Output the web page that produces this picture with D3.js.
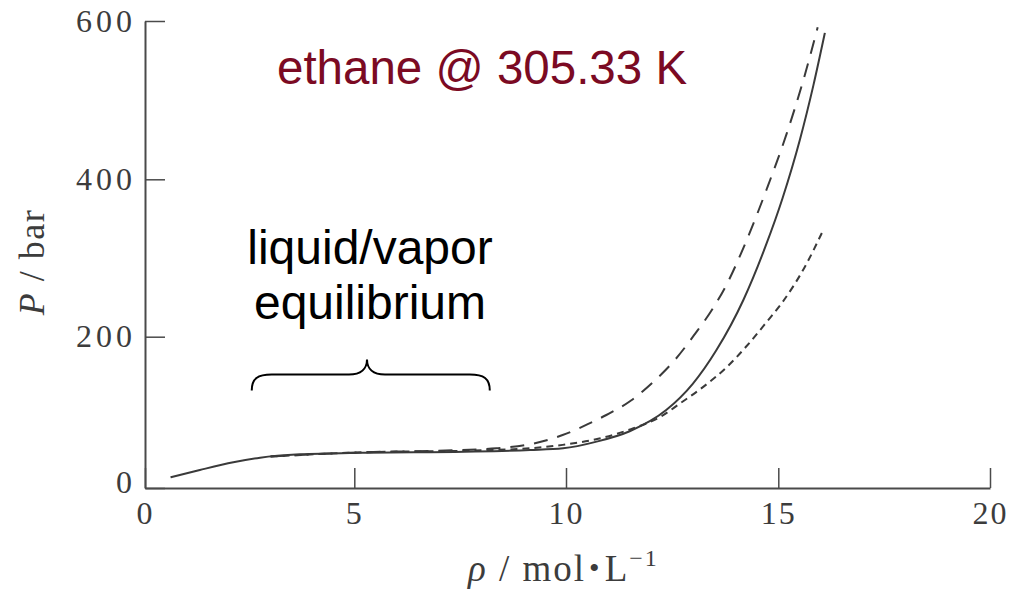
<!DOCTYPE html>
<html>
<head>
<meta charset="utf-8">
<script src="https://cdn.jsdelivr.net/npm/d3@7"></script>
<style>
  body { margin: 0; background: #fff; }
  svg { display: block; }
</style>
</head>
<body>
<script>
// values (rho in mol/L, P in bar)
var rhoSolid = [0.61, 1.31, 2.11, 2.75, 3.70, 5.2, 7.6, 9.15, 9.93, 10.7, 11.5, 12.36, 12.99, 13.54, 14.18, 14.7, 15.1, 15.51, 15.83, 16.1]
var pSolid = [14.1, 23.8, 34.0, 40.1, 44.5, 46.7, 48.0, 50.2, 52.5, 61, 75, 103, 138, 182, 247, 315, 376, 450, 519, 585]

var rhoLong = [3.0, 5.2, 6.8, 8.36, 9.15, 9.92, 10.5, 10.95, 11.54, 12.09, 12.56, 13.03, 13.46, 13.78, 14.25, 14.73, 15.2, 15.59, 15.93]
var pLong = [41.5, 47.2, 49, 52.5, 57.8, 70, 84, 96.5, 116, 142, 169, 203, 236, 266, 322, 388, 458, 525, 592]

var rhoShort = [3.0, 5.2, 7.6, 9.15, 9.92, 10.81, 11.59, 12.22, 12.69, 13.24, 13.79, 14.26, 14.73, 15.1, 15.67, 16.03]
var pShort = [41.5, 47.2, 49.3, 52.5, 57, 65.7, 79, 94, 112, 134, 160, 188, 219, 244, 293, 332]

var xTicks = [0, 5, 10, 15, 20]
var yTicks = [0, 200, 400, 600]

// brace under the two-phase label, in data units
var braceFrom = 2.55, braceTo = 8.2, braceMid = 5.3, braceP = 150

var width = 1028, height = 589

var svg = d3.select("body").append("svg")
    .attr("width", width)
    .attr("height", height)

// the picture's axes are a little uneven, so the scales follow the tick marks
var x = d3.scaleLinear()
    .domain(xTicks)
    .range([145, 354.3, 566, 778.3, 990])
var y = d3.scaleLinear()
    .domain(yTicks)
    .range([488, 336.7, 179.3, 21])

var axisColor = "#4a4a4a"
var serif = "'Liberation Serif', 'DejaVu Serif', serif"
var sans = "'Liberation Sans', Arial, sans-serif"

// x axis
var gx = svg.append("g")
    .attr("transform", "translate(0," + y(0) + ")")
    .call(d3.axisBottom(x).tickValues(xTicks).tickSizeInner(-20).tickSizeOuter(0).tickPadding(13))
gx.select(".domain").attr("stroke", axisColor).attr("stroke-width", 2)
gx.selectAll(".tick line").attr("stroke", axisColor).attr("stroke-width", 1.5)
gx.selectAll(".tick text")
    .attr("fill", "#3c3c3c")
    .style("font-family", serif)
    .style("font-size", "32px")
    .style("letter-spacing", "2px")

// y axis
var gy = svg.append("g")
    .attr("transform", "translate(" + x(0) + ",0)")
    .call(d3.axisLeft(y).tickValues(yTicks).tickSizeInner(-20).tickSizeOuter(0).tickPadding(9))
gy.select(".domain").attr("stroke", axisColor).attr("stroke-width", 2)
gy.selectAll(".tick line").attr("stroke", axisColor).attr("stroke-width", 1.5)
gy.selectAll(".tick text")
    .attr("fill", "#3c3c3c")
    .style("font-family", serif)
    .style("font-size", "32px")
    .style("letter-spacing", "4px")
// the zero label sits a bit above the corner
gy.selectAll(".tick").filter(function (d) { return d === 0 })
    .select("text").attr("y", -6)

// curves
function series(rs, ps) {
    return rs.map(function (r, i) { return { rho: r, p: ps[i] } })
}
var line = d3.line()
    .x(function (d) { return x(d.rho) })
    .y(function (d) { return y(d.p) })
    .curve(d3.curveMonotoneX)

svg.append("path")
    .datum(series(rhoShort, pShort))
    .attr("fill", "none")
    .attr("stroke", "#3a3a3a")
    .attr("stroke-width", 2)
    .attr("stroke-dasharray", "7,5")
    .attr("d", line)

svg.append("path")
    .datum(series(rhoLong, pLong))
    .attr("fill", "none")
    .attr("stroke", "#3a3a3a")
    .attr("stroke-width", 2)
    .attr("stroke-dasharray", "14,10")
    .attr("d", line)

svg.append("path")
    .datum(series(rhoSolid, pSolid))
    .attr("fill", "none")
    .attr("stroke", "#3a3a3a")
    .attr("stroke-width", 2)
    .attr("d", line)

// axis titles
var xt = svg.append("text")
    .attr("x", 468)
    .attr("y", 581)
    .attr("fill", "#3c3c3c")
    .style("font-family", serif)
    .style("font-size", "37px")
    .style("letter-spacing", "2px")
xt.append("tspan").style("font-style", "italic").text("ρ")
xt.append("tspan").text(" / mol")
xt.append("tspan").style("font-size", "30px").attr("dx", 3).attr("dy", -3).text("•")
xt.append("tspan").attr("dx", 3).attr("dy", 3).text("L")
xt.append("tspan").style("font-size", "24px").attr("dy", -15).text("−1")

var yt = svg.append("text")
    .attr("transform", "translate(44,262) rotate(-90)")
    .attr("text-anchor", "middle")
    .attr("fill", "#3c3c3c")
    .style("font-family", serif)
    .style("font-size", "36px")
    .style("letter-spacing", "1.5px")
yt.append("tspan").style("font-style", "italic").text("P")
yt.append("tspan").text(" / bar")

// title
svg.append("text")
    .attr("x", 277)
    .attr("y", 84)
    .attr("fill", "#7b0a23")
    .style("font-family", sans)
    .style("font-size", "47.5px")
    .text("ethane @ 305.33 K")

// two-phase annotation
var lv = svg.append("text")
    .attr("text-anchor", "middle")
    .attr("fill", "#000")
    .style("font-family", sans)
    .style("font-size", "48px")
lv.append("tspan").attr("x", 370).attr("y", 264).text("liquid/vapor")
lv.append("tspan").attr("x", 370).attr("y", 319).text("equilibrium")

var bx0 = x(braceFrom), bx1 = x(braceTo), bxm = x(braceMid), by = y(braceP)
var b = d3.path()
b.moveTo(bx0, by + 16)
b.bezierCurveTo(bx0, by + 4, bx0 + 6, by, bx0 + 20, by)
b.lineTo(bxm - 18, by)
b.bezierCurveTo(bxm - 6, by, bxm, by - 6, bxm, by - 15)
b.bezierCurveTo(bxm, by - 6, bxm + 6, by, bxm + 18, by)
b.lineTo(bx1 - 20, by)
b.bezierCurveTo(bx1 - 6, by, bx1, by + 4, bx1, by + 16)
svg.append("path")
    .attr("d", b.toString())
    .attr("fill", "none")
    .attr("stroke", "#000")
    .attr("stroke-width", 2)
</script>
</body>
</html>
